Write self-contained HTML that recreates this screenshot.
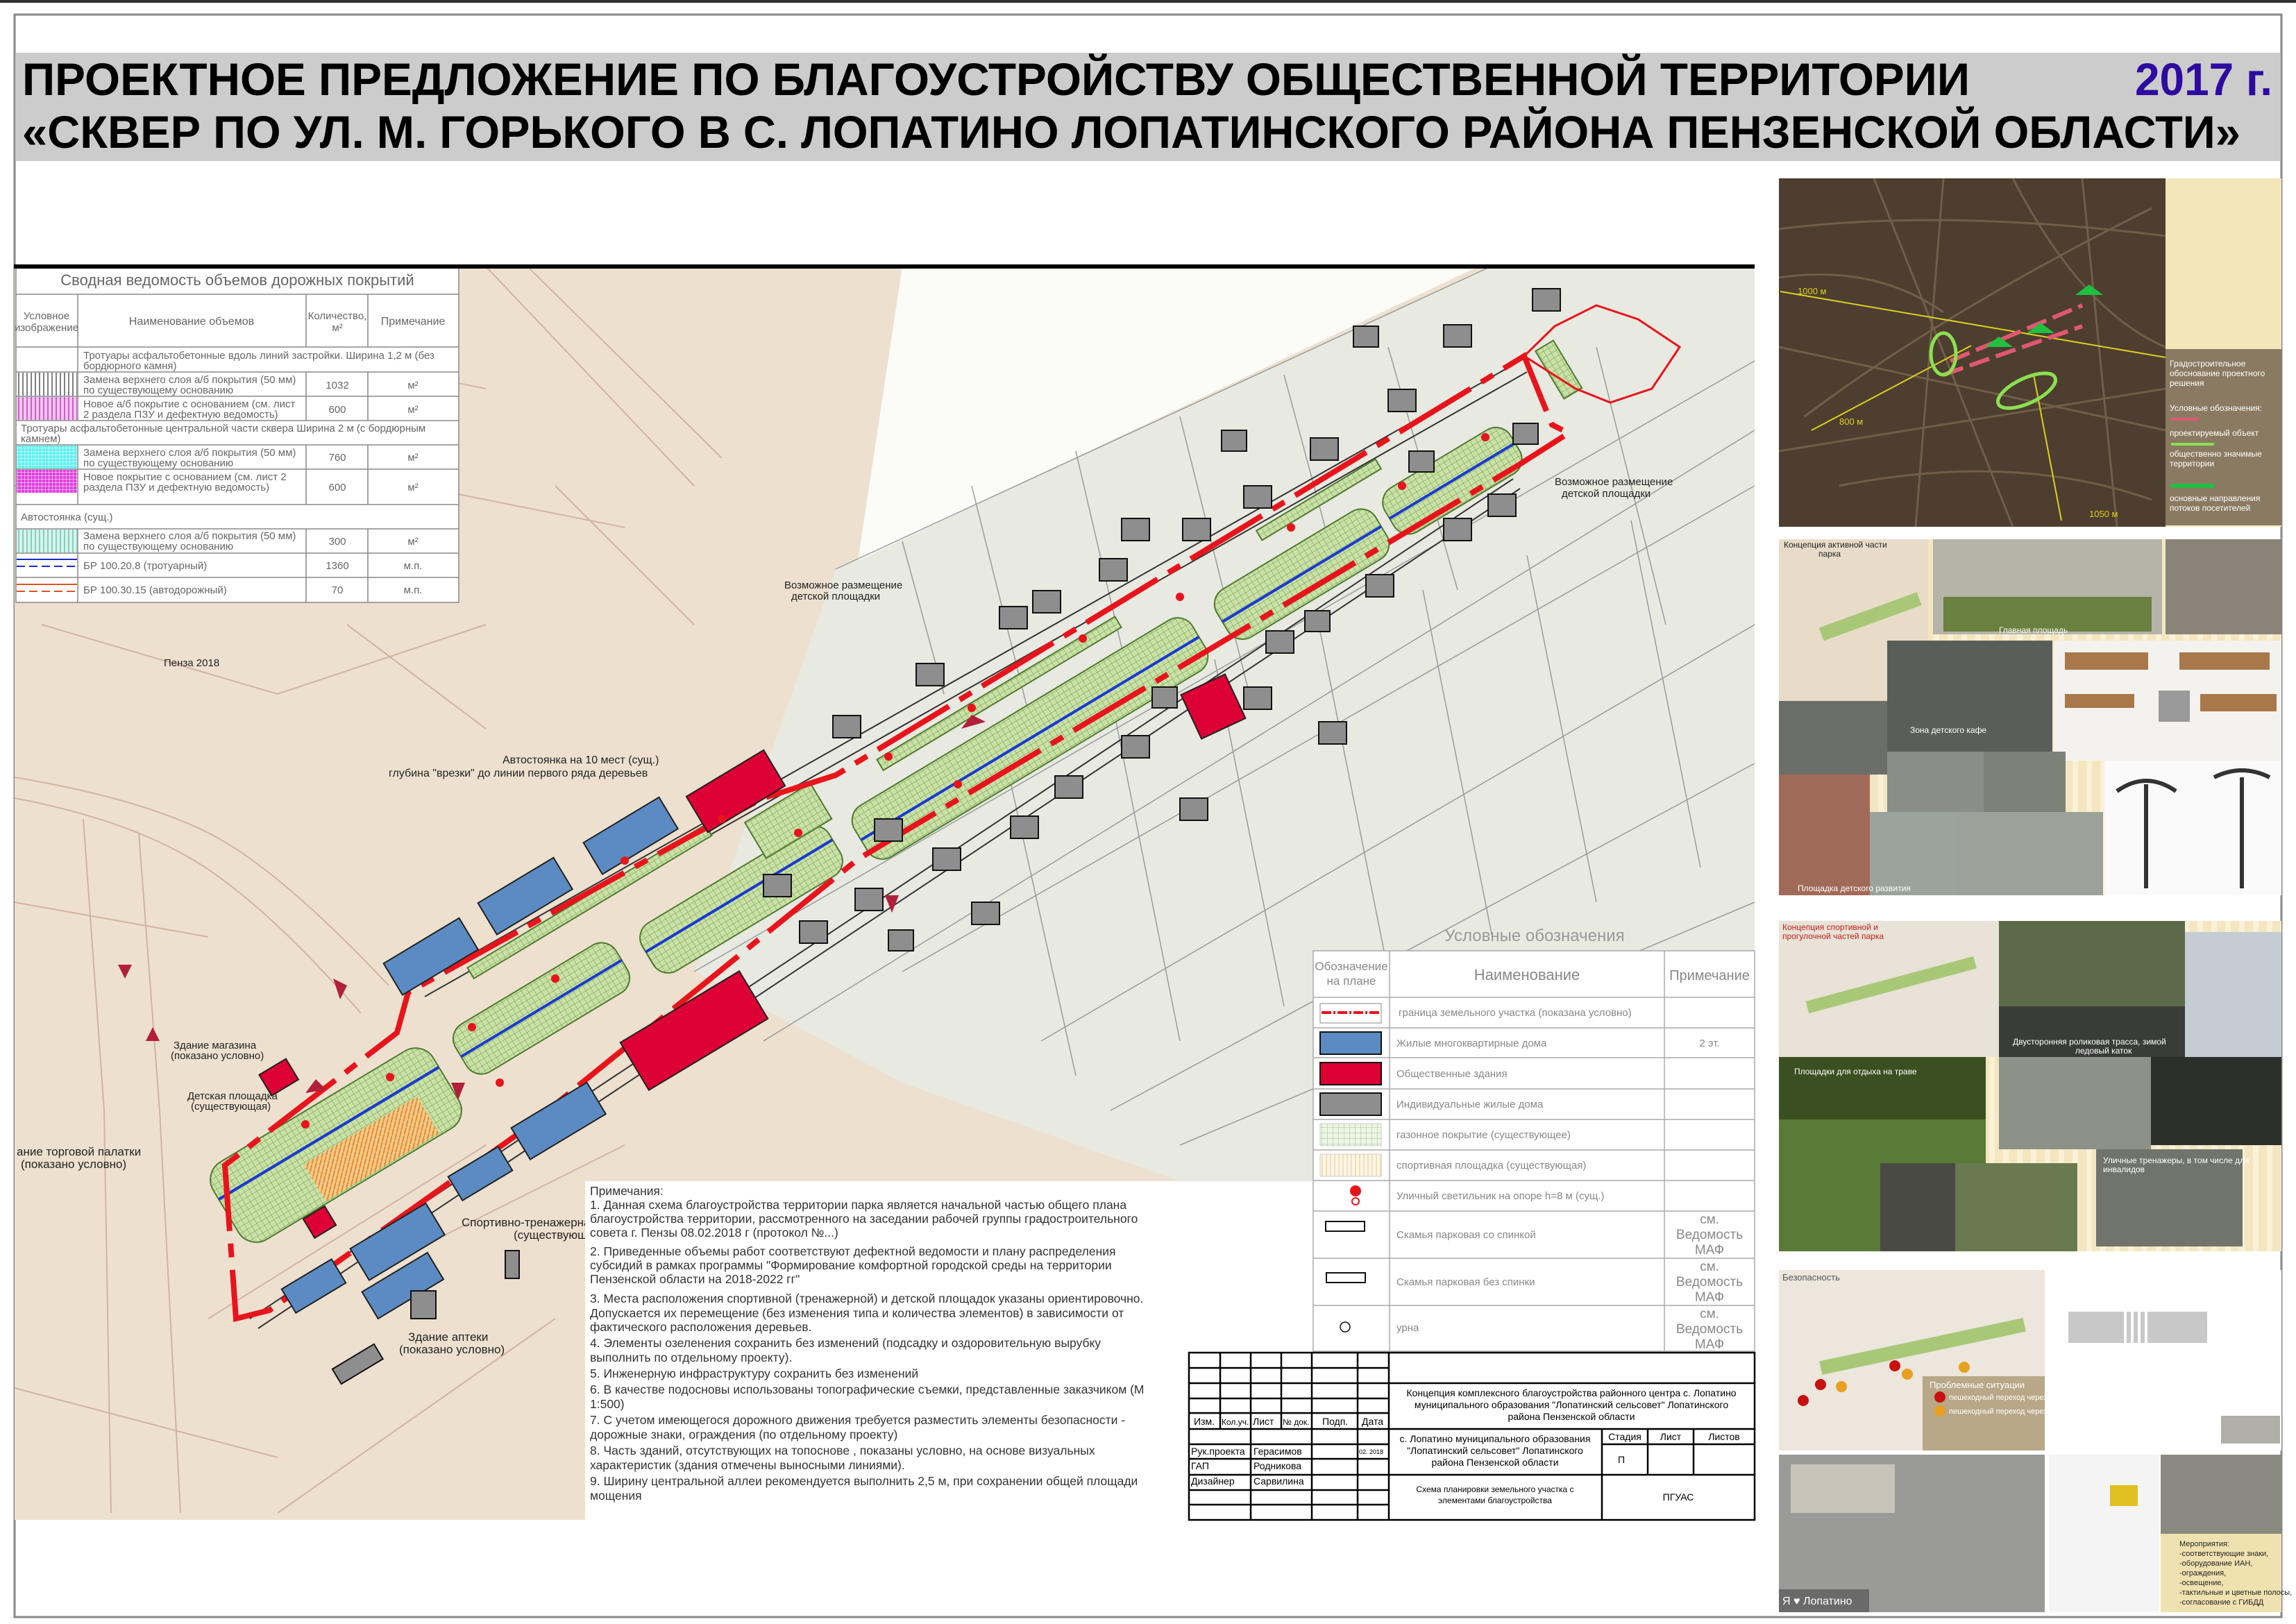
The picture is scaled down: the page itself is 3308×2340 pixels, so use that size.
<!DOCTYPE html>
<html><head><meta charset="utf-8"><style>
html,body{margin:0;padding:0;background:#fff}
svg{display:block}
.c{font-family:"Liberation Sans Narrow","Liberation Sans","DejaVu Sans",sans-serif}
</style></head><body>
<svg width="3308" height="2340" viewBox="0 0 3308 2340" xmlns="http://www.w3.org/2000/svg" class="c">
<defs>
<pattern id="grid" width="8" height="8" patternUnits="userSpaceOnUse"><rect width="8" height="8" fill="#c9e0a6"/><path d="M0 0H8M0 0V8" stroke="#6e9a4a" stroke-width="1"/></pattern>
<pattern id="orng" width="8" height="8" patternUnits="userSpaceOnUse"><rect width="8" height="8" fill="#f5c98c"/><path d="M0 8L8 0" stroke="#e08a2a" stroke-width="2"/></pattern>
<pattern id="vline" width="6" height="6" patternUnits="userSpaceOnUse"><rect width="6" height="6" fill="#fff"/><path d="M3 0V6" stroke="#555" stroke-width="1.5"/></pattern>
<pattern id="vmag" width="6" height="6" patternUnits="userSpaceOnUse"><rect width="6" height="6" fill="#f4c6f0"/><path d="M3 0V6" stroke="#c03cc0" stroke-width="1.5"/></pattern>
<pattern id="gcyan" width="5" height="5" patternUnits="userSpaceOnUse"><rect width="5" height="5" fill="#5ff0f0"/><path d="M0 0H5M0 0V5" stroke="#fff" stroke-width="1"/></pattern>
<pattern id="gmag" width="5" height="5" patternUnits="userSpaceOnUse"><rect width="5" height="5" fill="#e040e0"/><path d="M0 0H5M0 0V5" stroke="#fff" stroke-width="1"/></pattern>
<pattern id="vteal" width="6" height="6" patternUnits="userSpaceOnUse"><rect width="6" height="6" fill="#d6f4ec"/><path d="M3 0V6" stroke="#6ac4aa" stroke-width="1.5"/></pattern>
<pattern id="lgrid" width="8" height="8" patternUnits="userSpaceOnUse"><rect width="8" height="8" fill="#eef6e6"/><path d="M0 0H8M0 0V8" stroke="#9cc08a" stroke-width="1"/></pattern>
<pattern id="lorng" width="6" height="6" patternUnits="userSpaceOnUse"><rect width="6" height="6" fill="#fdf6e6"/><path d="M3 0V6" stroke="#ead8a8" stroke-width="1.5"/></pattern>
<pattern id="cream" width="40" height="40" patternUnits="userSpaceOnUse"><rect width="40" height="40" fill="#f3e6c0"/><path d="M10 0V40M30 0V40" stroke="#faf1d6" stroke-width="8"/></pattern>
</defs>

<rect x="0" y="0" width="3308" height="4" fill="#333"/>
<rect x="21" y="21" width="3266" height="2309" fill="none" stroke="#888" stroke-width="3"/>

<rect x="22" y="76" width="3264" height="156" fill="#cccccc"/>
<text x="32" y="137" font-family="Liberation Sans,sans-serif" font-weight="bold" font-size="66" textLength="2806" lengthAdjust="spacingAndGlyphs">ПРОЕКТНОЕ ПРЕДЛОЖЕНИЕ ПО БЛАГОУСТРОЙСТВУ ОБЩЕСТВЕННОЙ ТЕРРИТОРИИ</text>
<text x="3076" y="137" font-family="Liberation Sans,sans-serif" font-weight="bold" font-size="66" fill="#2d0aa0" textLength="198" lengthAdjust="spacingAndGlyphs">2017 г.</text>
<text x="32" y="213" font-family="Liberation Sans,sans-serif" font-weight="bold" font-size="66" textLength="3196" lengthAdjust="spacingAndGlyphs">«СКВЕР ПО УЛ. М. ГОРЬКОГО В С. ЛОПАТИНО ЛОПАТИНСКОГО РАЙОНА ПЕНЗЕНСКОЙ ОБЛАСТИ»</text>

<g>
<rect x="21" y="384" width="2507" height="1806" fill="#eee0cf"/>
<polygon points="1204,820 2148,384 2528,384 2528,1702 1700,1702 1300,1560 1000,1400" fill="#e8e9e1"/>
<polygon points="1300,384 2130,384 1236,808" fill="#fbfbf8"/>
<g stroke="#c9a995" stroke-width="2" fill="none" opacity="0.8">
<path d="M21 1120 Q200 1150 300 1200 T560 1420"/>
<path d="M21 1150 Q180 1180 280 1240 T520 1460"/>
<path d="M120 1180 L150 1600 L160 2180"/>
<path d="M200 1200 L230 1600 L260 2180"/>
<path d="M700 384 L1000 700"/><path d="M760 384 L1040 660"/>
<path d="M60 900 L400 1000 L700 900"/><path d="M300 600 L600 700 L900 760"/>
<path d="M21 700 Q300 720 500 820"/><path d="M400 500 L700 560"/>
<path d="M600 1800 L900 1650"/><path d="M300 1900 L700 1650"/>
<path d="M21 1300 L300 1350"/><path d="M21 2000 L400 2100"/><path d="M400 2180 L800 1900"/>
<path d="M500 900 L700 1050"/><path d="M800 700 L1000 900"/>
</g>
<g stroke="#8a9090" stroke-width="1.5" fill="none" opacity="0.85">
<path d="M1204 820 L2148 384"/><path d="M1000 1400 L2528 520"/>
<path d="M1300 1400 L2528 700"/><path d="M1500 1500 L2528 900"/>
<path d="M1600 1600 L2528 1100"/><path d="M1700 1650 L2528 1300"/>
<path d="M1400 700 L1500 1100"/><path d="M1700 600 L1800 1000"/><path d="M2000 500 L2100 850"/>
<path d="M1600 1000 L1700 1500"/><path d="M1900 900 L2000 1400"/><path d="M2200 800 L2300 1300"/>
<path d="M1300 780 L1360 1000"/><path d="M1550 650 L1620 950"/><path d="M1850 540 L1920 800"/>
<path d="M2300 500 L2400 900"/><path d="M1450 1100 L1550 1550"/><path d="M1750 950 L1850 1450"/>
<path d="M2050 850 L2150 1350"/><path d="M2350 750 L2450 1250"/>
<path d="M1100 1500 L2528 620"/>
</g>
<g stroke="#333" stroke-width="2" fill="none">
<path d="M600 1420 L2190 520"/><path d="M612 1436 L2200 536"/>
<path d="M360 1900 L2180 690"/><path d="M372 1914 L2190 704"/>
</g>
<g stroke="#4f7a30" stroke-width="2">
<g transform="rotate(-31 484 1650)"><rect x="299" y="1585" width="370" height="130" rx="30" fill="url(#grid)"/><rect x="430" y="1650" width="190" height="62" fill="url(#orng)" stroke="none"/><path d="M299 1630 H669" stroke="#1a3ad0" stroke-width="4"/></g>
<g transform="rotate(-31 780 1453)"><rect x="645" y="1413" width="270" height="80" rx="25" fill="url(#grid)"/><path d="M645 1453 H915" stroke="#1a3ad0" stroke-width="4"/></g>
<g transform="rotate(-31 1068 1296)"><rect x="911" y="1256" width="314" height="80" rx="25" fill="url(#grid)"/><path d="M911 1290 H1225" stroke="#1a3ad0" stroke-width="4"/></g>
<g transform="rotate(-31 1484 1064)"><rect x="1200" y="1021" width="568" height="86" rx="25" fill="url(#grid)"/><path d="M1200 1064 H1768" stroke="#1a3ad0" stroke-width="4"/></g>
<g transform="rotate(-31 1876 827)"><rect x="1742" y="787" width="267" height="80" rx="25" fill="url(#grid)"/><path d="M1742 827 H2009" stroke="#1a3ad0" stroke-width="4"/></g>
<g transform="rotate(-31 2092 693)"><rect x="1987" y="656" width="211" height="74" rx="25" fill="url(#grid)"/><path d="M1987 693 H2198" stroke="#1a3ad0" stroke-width="4"/></g>
<g transform="rotate(-31 1900 720)"><rect x="1800" y="712" width="200" height="16" fill="url(#grid)"/></g>
<g transform="rotate(-31 1440 1000)"><rect x="1240" y="990" width="400" height="18" fill="url(#grid)"/></g>
<g transform="rotate(-31 850 1300)"><rect x="650" y="1290" width="400" height="18" fill="url(#grid)"/></g>
<g transform="rotate(-31 1140 1180)"><rect x="1080" y="1150" width="110" height="60" fill="url(#grid)"/></g>
<g transform="rotate(-31 2250 530)"><rect x="2230" y="490" width="30" height="80" fill="url(#grid)"/></g>
</g>
<path d="M388 1888 L340 1900 L324 1679 L572 1488 L588 1430 L996 1204 L1100 1150 L1204 1117 L2196 513 L2236 612 L2260 624 L2188 670 L1236 1238 L756 1627 Z" fill="none" stroke="#e8141c" stroke-width="8" stroke-dasharray="120 18 20 18"/>
<path d="M2196 513 L2240 470 L2300 440 L2360 460 L2420 500 L2380 560 L2320 580 L2270 560 Z" fill="none" stroke="#e8141c" stroke-width="3"/>
<g fill="#5b8bc2" stroke="#222" stroke-width="2">
<rect x="845" y="1178" width="127" height="53" transform="rotate(-31 908 1204)"/>
<rect x="693" y="1265" width="127" height="53" transform="rotate(-31 756 1291)"/>
<rect x="557" y="1352" width="127" height="53" transform="rotate(-31 620 1378)"/>
<rect x="741" y="1589" width="127" height="53" transform="rotate(-31 804 1615)"/>
<rect x="650" y="1671" width="84" height="40" transform="rotate(-31 692 1691)"/>
<rect x="509" y="1763" width="127" height="53" transform="rotate(-31 572 1789)"/>
<rect x="410" y="1833" width="84" height="40" transform="rotate(-31 452 1853)"/>
<rect x="525" y="1830" width="110" height="45" transform="rotate(-31 580 1852)"/>
</g>
<g fill="#dc0034" stroke="#222" stroke-width="2">
<rect x="995" y="1110" width="130" height="60" transform="rotate(-31 1060 1140)"/>
<rect x="1713" y="983" width="70" height="70" transform="rotate(-25 1748 1018)"/>
<rect x="900" y="1445" width="200" height="80" transform="rotate(-31 1000 1485)"/>
<rect x="379" y="1535" width="45" height="35" transform="rotate(-31 401 1552)"/>
<rect x="442" y="1745" width="36" height="32" transform="rotate(-31 460 1760)"/>
</g>
<g fill="#8e8e8e" stroke="#111" stroke-width="2">
<rect x="1792" y="700" width="40" height="32"/><rect x="1704" y="747" width="40" height="32"/><rect x="1584" y="805" width="40" height="32"/>
<rect x="1440" y="874" width="40" height="32"/><rect x="1320" y="956" width="40" height="32"/><rect x="1200" y="1031" width="40" height="32"/>
<rect x="1888" y="631" width="40" height="32"/><rect x="2000" y="561" width="40" height="32"/><rect x="2080" y="468" width="40" height="32"/>
<rect x="2208" y="416" width="40" height="32"/><rect x="1616" y="747" width="40" height="32"/><rect x="1488" y="851" width="40" height="32"/>
<rect x="2080" y="747" width="40" height="32"/><rect x="1968" y="828" width="40" height="32"/><rect x="1824" y="909" width="40" height="32"/>
<rect x="1616" y="1060" width="40" height="32"/><rect x="1520" y="1118" width="40" height="32"/><rect x="1456" y="1176" width="40" height="32"/>
<rect x="1344" y="1222" width="40" height="32"/><rect x="1232" y="1280" width="40" height="32"/><rect x="1152" y="1327" width="40" height="32"/>
<rect x="2144" y="712" width="40" height="32"/><rect x="1792" y="990" width="40" height="32"/><rect x="728" y="1802" width="20" height="40"/>
<rect x="592" y="1860" width="36" height="40"/><rect x="480" y="1953" width="70" height="25" transform="rotate(-31 515 1965)"/>
<rect x="1400" y="1300" width="40" height="32"/><rect x="1700" y="1150" width="40" height="32"/><rect x="1900" y="1040" width="40" height="32"/>
<rect x="1260" y="1180" width="40" height="32"/><rect x="1100" y="1260" width="40" height="32"/>
<rect x="1950" y="470" width="36" height="30"/><rect x="1760" y="620" width="36" height="30"/><rect x="2030" y="650" width="36" height="30"/><rect x="2180" y="610" width="36" height="30"/>
<rect x="1880" y="880" width="36" height="30"/><rect x="1660" y="990" width="36" height="30"/><rect x="1280" y="1340" width="36" height="30"/>
</g>
<g fill="#e8141c"><circle cx="562" cy="1552" r="6"/><circle cx="680" cy="1480" r="6"/><circle cx="800" cy="1410" r="6"/><circle cx="900" cy="1240" r="6"/><circle cx="1040" cy="1180" r="6"/><circle cx="1150" cy="1200" r="6"/><circle cx="1280" cy="1090" r="6"/><circle cx="1400" cy="1020" r="6"/><circle cx="1560" cy="920" r="6"/><circle cx="1700" cy="860" r="6"/><circle cx="1860" cy="760" r="6"/><circle cx="2020" cy="700" r="6"/><circle cx="2140" cy="630" r="6"/><circle cx="440" cy="1620" r="6"/><circle cx="720" cy="1560" r="6"/><circle cx="1380" cy="1130" r="6"/></g>
<g fill="#b0203a"><polygon points="440,1575 470,1570 455,1555"/><polygon points="480,1410 490,1440 500,1420"/><polygon points="650,1560 660,1585 670,1560"/><polygon points="1385,1050 1420,1040 1400,1030"/><polygon points="1275,1290 1285,1315 1295,1290"/><polygon points="170,1390 180,1410 190,1390"/><polygon points="210,1500 220,1480 230,1500"/></g>
<g font-size="15" fill="#222">
<text x="724" y="1100" font-size="16">Автостоянка на 10 мест (сущ.)</text>
<text x="560" y="1119" font-size="16">глубина "врезки" до линии первого ряда деревьев</text>
<text x="1130" y="848">Возможное размещение</text><text x="1140" y="864">детской площадки</text>
<text x="2240" y="699">Возможное размещение</text><text x="2250" y="716">детской площадки</text>
<text x="236" y="960" font-family="Liberation Sans,sans-serif">Пенза 2018</text>
<text x="250" y="1511">Здание магазина</text><text x="246" y="1526">(показано условно)</text>
<text x="270" y="1584">Детская площадка</text><text x="275" y="1599">(существующая)</text>
<text x="24" y="1665" font-size="17">ание торговой палатки</text><text x="30" y="1683" font-size="17">(показано условно)</text>
<text x="665" y="1767" font-size="17">Спортивно-тренажерная</text><text x="740" y="1785" font-size="17">(существующая)</text>
<text x="588" y="1932" font-size="17">Здание аптеки</text><text x="575" y="1950" font-size="17">(показано условно)</text>
</g>
</g>

<g stroke="#888" stroke-width="1.5" fill="none">
<rect x="23" y="384" width="638" height="484" fill="#fff"/>
<path d="M23 424H661M23 500H661M23 536H661M23 571H661M23 606H661M23 641H661M23 676H661M23 727H661M23 762H661M23 797H661M23 832H661"/>
<path d="M112 424V536M441 424V500M530 424V500M112 536V606M441 536V606M530 536V606M112 641V727M441 641V727M530 641V727M112 762V868M441 762V868M530 762V868"/>
</g>
<rect x="20" y="381" width="2508" height="6" fill="#000"/>
<rect x="24" y="537" width="87" height="33" fill="url(#vline)"/>
<rect x="24" y="572" width="87" height="33" fill="url(#vmag)"/>
<rect x="24" y="642" width="87" height="33" fill="url(#gcyan)"/>
<rect x="24" y="677" width="87" height="33" fill="url(#gmag)"/>
<rect x="24" y="763" width="87" height="33" fill="url(#vteal)"/>
<path d="M24 806H111" stroke="#1a2ad0" stroke-width="2"/><path d="M24 816H111" stroke="#1a2ad0" stroke-width="2" stroke-dasharray="12 6"/>
<path d="M24 842H111" stroke="#e05020" stroke-width="2"/><path d="M24 852H111" stroke="#e05020" stroke-width="2" stroke-dasharray="12 6"/>
<g fill="#666" font-size="15">
<text x="342" y="411" font-size="22" text-anchor="middle">Сводная ведомость объемов дорожных покрытий</text>
<text x="67" y="460" text-anchor="middle">Условное</text><text x="67" y="477" text-anchor="middle">изображение</text>
<text x="276" y="468" text-anchor="middle" font-size="16">Наименование объемов</text>
<text x="486" y="460" text-anchor="middle">Количество,</text><text x="486" y="477" text-anchor="middle">м²</text>
<text x="595" y="468" text-anchor="middle" font-size="16">Примечание</text>
<text x="120" y="517">Тротуары асфальтобетонные вдоль линий застройки. Ширина 1,2 м (без</text><text x="120" y="532">бордюрного камня)</text>
<text x="120" y="552">Замена верхнего слоя а/б покрытия (50 мм)</text><text x="120" y="567">по существующему основанию</text>
<text x="120" y="587">Новое а/б покрытие с основанием (см. лист</text><text x="120" y="602">2 раздела ПЗУ и дефектную ведомость)</text>
<text x="30" y="622">Тротуары асфальтобетонные центральной части сквера Ширина 2 м (с бордюрным</text><text x="30" y="637">камнем)</text>
<text x="120" y="657">Замена верхнего слоя а/б покрытия (50 мм)</text><text x="120" y="672">по существующему основанию</text>
<text x="120" y="692">Новое покрытие с основанием (см. лист 2</text><text x="120" y="707">раздела ПЗУ и дефектную ведомость)</text>
<text x="30" y="750">Автостоянка (сущ.)</text>
<text x="120" y="777">Замена верхнего слоя а/б покрытия (50 мм)</text><text x="120" y="792">по существующему основанию</text>
<text x="120" y="820">БР 100.20.8 (тротуарный)</text><text x="120" y="855">БР 100.30.15 (автодорожный)</text>
<text x="486" y="560" text-anchor="middle">1032</text><text x="486" y="595" text-anchor="middle">600</text>
<text x="486" y="664" text-anchor="middle">760</text><text x="486" y="707" text-anchor="middle">600</text>
<text x="486" y="785" text-anchor="middle">300</text><text x="486" y="820" text-anchor="middle">1360</text><text x="486" y="855" text-anchor="middle">70</text>
<text x="595" y="560" text-anchor="middle">м²</text><text x="595" y="595" text-anchor="middle">м²</text><text x="595" y="664" text-anchor="middle">м²</text><text x="595" y="707" text-anchor="middle">м²</text><text x="595" y="785" text-anchor="middle">м²</text><text x="595" y="820" text-anchor="middle">м.п.</text><text x="595" y="855" text-anchor="middle">м.п.</text>
</g>

<rect x="843" y="1702" width="1685" height="488" fill="#fff"/>
<rect x="1892" y="1370" width="636" height="580" fill="#fff"/>
<g font-size="17.5" fill="#333">
<text x="850" y="1722">Примечания:</text>
<text x="850" y="1742">1. Данная схема благоустройства территории парка является начальной частью общего плана</text>
<text x="850" y="1762">благоустройства территории, рассмотренного на заседании рабочей группы градостроительного</text>
<text x="850" y="1782">совета г. Пензы 08.02.2018 г (протокол №...)</text>
<text x="850" y="1809">2. Приведенные объемы работ соответствуют дефектной ведомости и плану распределения</text>
<text x="850" y="1829">субсидий в рамках программы "Формирование комфортной городской среды на территории</text>
<text x="850" y="1849">Пензенской области на 2018-2022 гг"</text>
<text x="850" y="1877">3. Места расположения спортивной (тренажерной) и детской площадок указаны ориентировочно.</text>
<text x="850" y="1898">Допускается их перемещение (без изменения типа и количества элементов) в зависимости от</text>
<text x="850" y="1918">фактического расположения деревьев.</text>
<text x="850" y="1941">4. Элементы озеленения сохранить без изменений (подсадку и оздоровительную вырубку</text>
<text x="850" y="1962">выполнить по отдельному проекту).</text>
<text x="850" y="1985">5. Инженерную инфраструктуру сохранить без изменений</text>
<text x="850" y="2008">6. В качестве подосновы использованы топографические съемки, представленные заказчиком (М</text>
<text x="850" y="2029">1:500)</text>
<text x="850" y="2052">7. С учетом имеющегося дорожного движения требуется разместить элементы безопасности -</text>
<text x="850" y="2073">дорожные знаки, ограждения (по отдельному проекту)</text>
<text x="850" y="2096">8. Часть зданий, отсутствующих на топосновe , показаны условно, на основе визуальных</text>
<text x="850" y="2117">характеристик (здания отмечены выносными линиями).</text>
<text x="850" y="2140">9. Ширину центральной аллеи рекомендуется выполнить 2,5 м, при сохранении общей площади</text>
<text x="850" y="2161">мощения</text>
</g>

<text x="2211" y="1356" font-size="24" fill="#999" text-anchor="middle">Условные обозначения</text>
<g stroke="#aaa" stroke-width="1.5" fill="none">
<rect x="1892" y="1370" width="636" height="577"/>
<path d="M1892 1437H2528M1892 1481H2528M1892 1524H2528M1892 1569H2528M1892 1613H2528M1892 1657H2528M1892 1701H2528M1892 1745H2528M1892 1813H2528M1892 1881H2528"/>
<path d="M2002 1370V1947M2398 1370V1947"/>
</g>
<rect x="1902" y="1446" width="88" height="28" fill="#fff" stroke="#888"/><path d="M1904 1459H1988" stroke="#e8141c" stroke-width="4" stroke-dasharray="14 3 3 3"/>
<rect x="1902" y="1487" width="88" height="32" fill="#5b8bc2" stroke="#111" stroke-width="2"/>
<rect x="1902" y="1531" width="88" height="32" fill="#dc0034" stroke="#111" stroke-width="2"/>
<rect x="1902" y="1575" width="88" height="32" fill="#8e8e8e" stroke="#111" stroke-width="2"/>
<rect x="1902" y="1619" width="88" height="32" fill="url(#lgrid)" stroke="#ccc"/>
<rect x="1902" y="1663" width="88" height="32" fill="url(#lorng)" stroke="#ccc"/>
<circle cx="1953" cy="1716" r="8" fill="#e8141c"/><circle cx="1953" cy="1731" r="5" fill="none" stroke="#e8141c" stroke-width="2"/>
<rect x="1910" y="1760" width="56" height="14" fill="#fff" stroke="#111" stroke-width="2"/>
<rect x="1911" y="1834" width="56" height="14" fill="#fff" stroke="#111" stroke-width="2"/>
<circle cx="1938" cy="1912" r="7" fill="#fff" stroke="#111" stroke-width="1.5"/>
<g fill="#888" font-size="15">
<text x="1947" y="1398" font-size="17" text-anchor="middle">Обозначение</text><text x="1947" y="1419" font-size="17" text-anchor="middle">на плане</text>
<text x="2200" y="1412" font-size="22" text-anchor="middle">Наименование</text>
<text x="2463" y="1412" font-size="20" text-anchor="middle">Примечание</text>
<text x="2015" y="1464">граница земельного участка (показана условно)</text>
<text x="2012" y="1508">Жилые многоквартирные дома</text><text x="2463" y="1508" text-anchor="middle">2 эт.</text>
<text x="2012" y="1552">Общественные здания</text>
<text x="2012" y="1596">Индивидуальные жилые дома</text>
<text x="2012" y="1640">газонное покрытие (существующее)</text>
<text x="2012" y="1684">спортивная площадка (существующая)</text>
<text x="2012" y="1728">Уличный светильник на опоре h=8 м (сущ.)</text>
<text x="2012" y="1784">Скамья парковая со спинкой</text>
<text x="2012" y="1852">Скамья парковая без спинки</text>
<text x="2012" y="1918">урна</text>
<g text-anchor="middle" font-size="19"><text x="2463" y="1763">см.</text><text x="2463" y="1785">Ведомость</text><text x="2463" y="1807">МАФ</text>
<text x="2463" y="1831">см.</text><text x="2463" y="1853">Ведомость</text><text x="2463" y="1875">МАФ</text>
<text x="2463" y="1899">см.</text><text x="2463" y="1921">Ведомость</text><text x="2463" y="1943">МАФ</text></g>
</g>

<rect x="1713" y="1949" width="815" height="241" fill="#fff"/>
<g stroke="#000" stroke-width="2.5" fill="none">
<rect x="1713" y="1949" width="815" height="241"/>
<path d="M1713 1971H2001M1713 1993H2528M1713 2015H2001M1713 2036H2001M1713 2059H2528M1713 2081H2001M1713 2102H2001M1713 2125H2528M1713 2147H2001M1713 2168H2001"/>
<path d="M2308 2081H2528"/>
<path d="M1758 1949V2059M1802 1949V2190M1846 1949V2059M1890 1949V2190M1956 1949V2190M2001 1949V2190"/>
<path d="M2308 2059V2190M2374 2059V2125M2440 2059V2125"/>
</g>
<g font-family="Liberation Sans,sans-serif" font-size="14" fill="#000">
<text x="1720" y="2053">Изм.</text><text x="1760" y="2053" font-size="12">Кол.уч.</text><text x="1805" y="2053">Лист</text><text x="1848" y="2053" font-size="12">№ док.</text><text x="1905" y="2053">Подп.</text><text x="1962" y="2053">Дата</text>
<text x="1716" y="2096">Рук.проекта</text><text x="1806" y="2096">Герасимов</text><text x="1958" y="2095" font-size="9">02. 2018</text>
<text x="1716" y="2117">ГАП</text><text x="1806" y="2117">Родникова</text>
<text x="1716" y="2139">Дизайнер</text><text x="1806" y="2139">Сарвилина</text>
<text x="2264" y="2012" text-anchor="middle">Концепция комплексного благоустройства районного центра с. Лопатино</text>
<text x="2264" y="2029" text-anchor="middle">муниципального образования "Лопатинский сельсовет" Лопатинского</text>
<text x="2264" y="2046" text-anchor="middle">района Пензенской области</text>
<text x="2154" y="2078" text-anchor="middle">с. Лопатино муниципального образования</text>
<text x="2154" y="2095" text-anchor="middle">"Лопатинский сельсовет" Лопатинского</text>
<text x="2154" y="2112" text-anchor="middle">района Пензенской области</text>
<text x="2341" y="2075" text-anchor="middle">Стадия</text><text x="2407" y="2075" text-anchor="middle">Лист</text><text x="2484" y="2075" text-anchor="middle">Листов</text>
<text x="2336" y="2108" text-anchor="middle">П</text>
<text x="2154" y="2150" text-anchor="middle" font-size="12">Схема планировки земельного участка с</text>
<text x="2154" y="2166" text-anchor="middle" font-size="12">элементами благоустройства</text>
<text x="2418" y="2162" text-anchor="middle">ПГУАС</text>
</g>

<rect x="2563" y="257" width="557" height="502" fill="#4d3e2f"/>
<g stroke="#7a6650" stroke-width="3" fill="none" opacity="0.8">
<path d="M2563 330 Q2800 300 3120 340"/><path d="M2600 600 Q2800 450 3100 300"/><path d="M2700 257 L2900 759"/><path d="M2563 500 L3120 620"/><path d="M2900 257 Q3000 450 3120 500"/><path d="M2650 700 Q2900 650 3100 720"/>
<path d="M2563 400 Q2700 380 2800 450"/><path d="M2800 257 L2760 759"/><path d="M3000 257 L3050 759"/><path d="M2563 650 L3120 560"/>
</g>
<rect x="3120" y="257" width="167" height="502" fill="#f3e6b8"/>
<rect x="3120" y="503" width="167" height="254" fill="#8a7a62"/>
<g stroke="#ddd020" stroke-width="2"><path d="M2565 420 L3120 515"/><path d="M2840 498 L2610 620"/><path d="M2930 540 L2970 750"/></g>
<path d="M2800 540 L3000 470" stroke="#e05870" stroke-width="6" stroke-dasharray="30 10"/><path d="M2810 520 L3000 440" stroke="#e05870" stroke-width="6" stroke-dasharray="30 10"/>
<ellipse cx="2920" cy="563" rx="45" ry="18" fill="none" stroke="#8ae050" stroke-width="5" transform="rotate(-25 2920 563)"/>
<ellipse cx="2800" cy="510" rx="18" ry="30" fill="none" stroke="#8ae050" stroke-width="5"/>
<g fill="#20c040"><polygon points="2860,500 2880,485 2900,500"/><polygon points="2920,480 2940,465 2960,480"/><polygon points="2990,425 3010,410 3030,425"/></g>
<g font-family="Liberation Sans,sans-serif" font-size="12" fill="#fff">
<text x="3126" y="528">Градостроительное</text><text x="3126" y="542">обоснование проектного</text><text x="3126" y="556">решения</text>
<text x="3126" y="592">Условные обозначения:</text>
<path d="M3128 604H3168" stroke="#e05870" stroke-width="4"/><text x="3126" y="628">проектируемый объект</text>
<path d="M3128 640H3190" stroke="#8ae050" stroke-width="4"/><text x="3126" y="658">общественно значимые</text><text x="3126" y="672">территории</text>
<path d="M3128 700H3190" stroke="#20c040" stroke-width="6"/><text x="3126" y="722">основные направления</text><text x="3126" y="736">потоков посетителей</text>
</g>
<g font-family="Liberation Sans,sans-serif" font-size="13" fill="#ddd020"><text x="2590" y="424">1000 м</text><text x="2650" y="612">800 м</text><text x="3010" y="745">1050 м</text></g>

<rect x="2563" y="777" width="724" height="513" fill="url(#cream)"/>
<rect x="2563" y="777" width="215" height="233" fill="#e8dcc8"/>
<rect x="2620" y="880" width="150" height="20" fill="#a8c878" transform="rotate(-20 2690 890)"/>
<rect x="2785" y="777" width="330" height="137" fill="#b4b4a8"/><rect x="2800" y="860" width="300" height="50" fill="#6a8040"/>
<rect x="3120" y="777" width="167" height="137" fill="#8a8478"/>
<rect x="2719" y="923" width="238" height="160" fill="#5a5e58"/>
<rect x="2959" y="923" width="328" height="173" fill="#f4f2ee"/>
<g fill="#a8784a"><rect x="2975" y="940" width="120" height="25"/><rect x="3140" y="940" width="130" height="25"/><rect x="2975" y="1000" width="100" height="20"/><rect x="3110" y="995" width="45" height="45" fill="#9a9a9a"/><rect x="3170" y="1000" width="110" height="25"/></g>
<rect x="2563" y="1010" width="156" height="106" fill="#6c6e6a"/>
<rect x="2719" y="1083" width="139" height="87" fill="#8a8e88"/><rect x="2858" y="1083" width="118" height="87" fill="#7d8278"/>
<rect x="2563" y="1116" width="131" height="174" fill="#a06a58"/>
<rect x="2694" y="1170" width="125" height="120" fill="#9aa49c"/>
<rect x="2819" y="1170" width="211" height="120" fill="#9ca29a"/>
<rect x="3032" y="1096" width="255" height="194" fill="#fafafa"/>
<g stroke="#333" stroke-width="6" fill="none"><path d="M3092 1280V1130M3050 1140Q3092 1110 3135 1140"/><path d="M3230 1280V1120M3190 1120Q3230 1100 3270 1120"/></g>
<g font-family="Liberation Sans,sans-serif" font-size="12" fill="#222"><text x="2570" y="789">Концепция активной части</text><text x="2620" y="802">парка</text></g>
<g font-family="Liberation Sans,sans-serif" font-size="12" fill="#fff"><text x="2880" y="912">Главная площадь</text><text x="2752" y="1056">Зона детского кафе</text><text x="2590" y="1284">Площадка детского развития</text></g>

<rect x="2563" y="1327" width="724" height="476" fill="url(#cream)"/>
<rect x="2563" y="1327" width="317" height="196" fill="#e9e2d6"/>
<rect x="2600" y="1410" width="250" height="18" fill="#a8c878" transform="rotate(-15 2725 1420)"/>
<rect x="2880" y="1327" width="268" height="196" fill="#5c6a4a"/><rect x="2880" y="1450" width="268" height="73" fill="#3a3c3a"/>
<rect x="3148" y="1343" width="139" height="180" fill="#c4ccd4"/>
<rect x="2563" y="1523" width="298" height="280" fill="#5a7a38"/><rect x="2563" y="1523" width="298" height="90" fill="#3a5020"/>
<rect x="2880" y="1523" width="219" height="133" fill="#8c9288"/>
<rect x="3099" y="1523" width="188" height="127" fill="#2c302c"/>
<rect x="2709" y="1676" width="108" height="127" fill="#4a4a44"/>
<rect x="2817" y="1676" width="176" height="127" fill="#6a7a50"/>
<rect x="3020" y="1656" width="211" height="140" fill="#70746c"/>
<g font-family="Liberation Sans,sans-serif" font-size="12" fill="#c02020"><text x="2568" y="1340">Концепция спортивной и</text><text x="2568" y="1353">прогулочной частей парка</text></g>
<g font-family="Liberation Sans,sans-serif" font-size="12" fill="#fff"><text x="2900" y="1505">Двусторонняя роликовая трасса, зимой</text><text x="2990" y="1518">ледовый каток</text><text x="2585" y="1548">Площадки для отдыха на траве</text><text x="3030" y="1676">Уличные тренажеры, в том числе для</text><text x="3030" y="1689">инвалидов</text></g>

<rect x="2563" y="1830" width="383" height="260" fill="#ece6dc"/>
<rect x="2620" y="1930" width="300" height="20" fill="#a8c878" transform="rotate(-12 2770 1940)"/>
<rect x="2770" y="1983" width="176" height="107" fill="#b8a888"/>
<g fill="#c81010"><circle cx="2598" cy="2018" r="8"/><circle cx="2623" cy="1995" r="8"/><circle cx="2730" cy="1968" r="8"/><circle cx="2795" cy="2013" r="8"/></g>
<g fill="#e8a020"><circle cx="2653" cy="1998" r="8"/><circle cx="2748" cy="1980" r="8"/><circle cx="2830" cy="1970" r="8"/><circle cx="2795" cy="2033" r="8"/></g>
<g font-family="Liberation Sans,sans-serif" font-size="11" fill="#fff"><text x="2780" y="2000" font-size="13">Проблемные ситуации</text><text x="2808" y="2017">пешеходный переход через</text><text x="2808" y="2037">пешеходный переход через</text></g>
<text x="2568" y="1845" font-family="Liberation Sans,sans-serif" font-size="13" fill="#555">Безопасность</text>
<rect x="2952" y="1830" width="335" height="260" fill="#fff"/>
<rect x="2980" y="1890" width="200" height="45" fill="#c8c8c8"/><g fill="#fff"><rect x="3060" y="1890" width="4" height="45"/><rect x="3070" y="1890" width="4" height="45"/><rect x="3080" y="1890" width="4" height="45"/><rect x="3090" y="1890" width="4" height="45"/></g>
<rect x="3200" y="2040" width="85" height="40" fill="#b0b0a8"/>
<rect x="2563" y="2096" width="383" height="227" fill="#9a9a98"/><rect x="2580" y="2110" width="150" height="70" fill="#c8c4b8"/>
<rect x="2563" y="2290" width="130" height="33" fill="#6a6a6a"/>
<text x="2568" y="2312" font-family="Liberation Sans,sans-serif" font-size="16" fill="#fff">Я ♥ Лопатино</text>
<rect x="2952" y="2096" width="159" height="227" fill="#f4f4f4"/><rect x="3040" y="2140" width="40" height="30" fill="#e0c020"/>
<rect x="3113" y="2096" width="174" height="114" fill="#8a8a80"/>
<rect x="3113" y="2210" width="174" height="113" fill="#f0e2b0"/>
<g font-family="Liberation Sans,sans-serif" font-size="11" fill="#222"><text x="3140" y="2228">Мероприятия:</text><text x="3140" y="2242">-соответствующие знаки,</text><text x="3140" y="2256">-оборудование ИАН,</text><text x="3140" y="2270">-ограждения,</text><text x="3140" y="2284">-освещение,</text><text x="3140" y="2298">-тактильные и цветные полосы,</text><text x="3140" y="2312">-согласование с ГИБДД</text></g>
</svg>
</body></html>
